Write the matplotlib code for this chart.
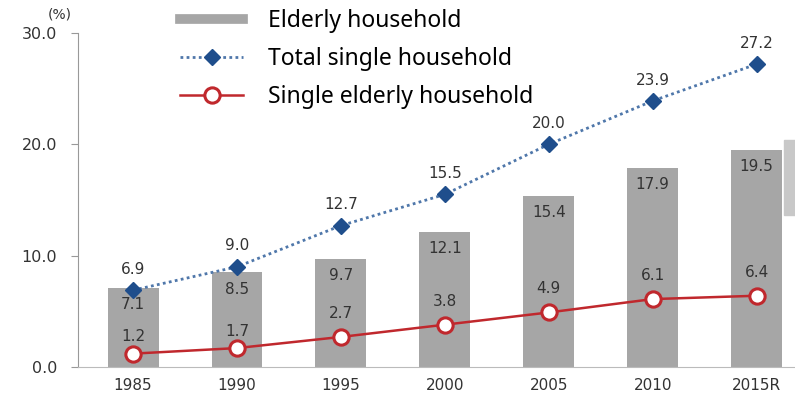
import matplotlib.pyplot as plt
import numpy as np
from matplotlib.lines import Line2D
from matplotlib.patches import Rectangle

years = ['1985', '1990', '1995', '2000', '2005', '2010', '2015R']
elderly = [7.1, 8.5, 9.7, 12.1, 15.4, 17.9, 19.5]
total_single = [6.9, 9.0, 12.7, 15.5, 20.0, 23.9, 27.2]
single_elderly = [1.2, 1.7, 2.7, 3.8, 4.9, 6.1, 6.4]

bar_color = '#a6a6a6'
blue_line = '#4f77aa'
blue_mark = '#1f4e8c'
red = '#c0282d'
txt = '#333333'

fig = plt.figure(figsize=(7.95, 3.94), dpi=100)
ax = fig.add_axes([78 / 795, 27 / 394, 717 / 795, 334 / 394])

x = np.arange(len(years))
ax.bar(x, elderly, width=0.49, color=bar_color, zorder=1)
ax.plot(x, total_single, color=blue_line, lw=2, ls=(0, (1, 1.2)), zorder=2)
ax.plot(x, total_single, ls='none', marker='D', ms=8, color=blue_mark, zorder=3)
ax.plot(x, single_elderly, color=red, lw=1.8, marker='o', ms=11,
        mfc='white', mec=red, mew=2.2, zorder=4)

# value labels
fs = 11
for xi, v in zip(x, total_single):
    ax.annotate(f'{v:.1f}', (xi, v), xytext=(0, 15), textcoords='offset points',
                ha='center', va='center', fontsize=fs, color=txt)
for xi, v in zip(x, elderly):
    ax.annotate(f'{v:.1f}', (xi, v), xytext=(0, -12), textcoords='offset points',
                ha='center', va='center', fontsize=fs, color=txt)
for i, (xi, v) in enumerate(zip(x, single_elderly)):
    off = 12 if i < 2 else 17
    ax.annotate(f'{v:.1f}', (xi, v), xytext=(0, off), textcoords='offset points',
                ha='center', va='center', fontsize=fs, color=txt)

ax.set_xlim(-0.53, 6.37)
ax.set_ylim(0, 30)
ax.set_yticks([0, 10, 20, 30])
ax.set_yticklabels(['0.0', '10.0', '20.0', '30.0'])
ax.set_xticks(x)
ax.set_xticklabels(years)
ax.tick_params(axis='x', length=0, pad=8, labelsize=11, labelcolor=txt)
ax.tick_params(axis='y', length=5, color='#999999', pad=10, labelsize=11.5, labelcolor=txt)
ax.spines['top'].set_visible(False)
ax.spines['right'].set_visible(False)
ax.spines['left'].set_color('#999999')
ax.spines['bottom'].set_color('#bbbbbb')

fig.text(48 / 795, 1 - 15 / 394, '(%)', fontsize=10, color=txt, ha='left', va='center')

# stray grey box at right edge of the original
fig.patches.append(Rectangle((784 / 795, 1 - 215 / 394), 11 / 795, 75 / 394,
                             transform=fig.transFigure, color='#c8c8c8', zorder=0))

handles = [
    Line2D([], [], color=bar_color, lw=7),
    Line2D([], [], color=blue_line, lw=2, ls=(0, (1, 1.2)), marker='D', ms=8,
           mfc=blue_mark, mec=blue_mark),
    Line2D([], [], color=red, lw=1.8, marker='o', ms=11, mfc='white', mec=red, mew=2.2),
]
labels = ['Elderly household', 'Total single household', 'Single elderly household']
fig.legend(handles, labels, loc='upper left', bbox_to_anchor=(180 / 795, 1 - 9 / 394),
           bbox_transform=fig.transFigure, frameon=False,
           prop={'family': 'Noto Sans', 'size': 16.5}, handlelength=2.75,
           handletextpad=1.1, labelspacing=0.62, borderpad=0, borderaxespad=0)

fig.savefig('out.png', dpi=100)
